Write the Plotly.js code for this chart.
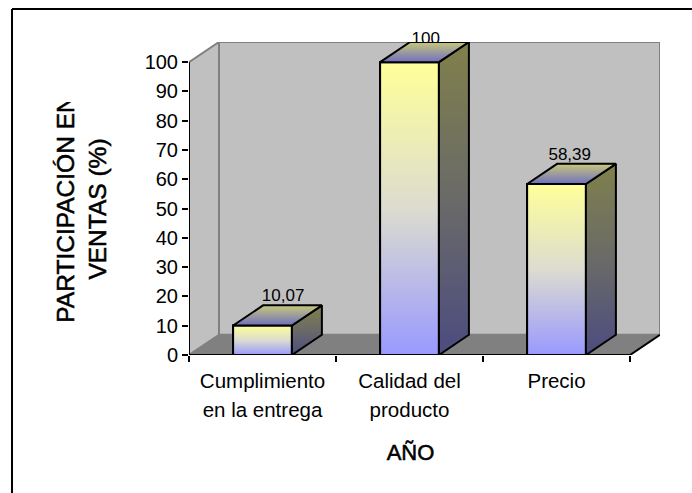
<!DOCTYPE html>
<html>
<head>
<meta charset="utf-8">
<script src="https://cdn.plot.ly/plotly-3.0.1.min.js"></script>
<style>
html,body{margin:0;padding:0;background:#fff}
.ytitle,.xtitle{stroke:#000;stroke-width:.55px}
</style>
</head>
<body>
<div id="chart" style="width:692px;height:493px"></div>
<script>
// Participation per purchase factor, drawn as a pseudo-3D column chart
const categories = ['Cumplimiento<br>en la entrega', 'Calidad del<br>producto', 'Precio'];
const values = [10.07, 100, 58.39];
const valueLabels = ['10,07', '100', '58,39'];
const labelShift = [0.14, 0.11, 0.09];
const labelDrop = [0, 2.2, 0];
const yTicks = [0, 10, 20, 30, 40, 50, 60, 70, 80, 90, 100];
const categoryEdges = [-0.5, 0.5, 1.5, 2.5];

// Oblique projection depth, in axis units
const depthX = 0.204;
const depthY = 6.9;
const barWidth = 0.4;

const faceColors = [[0, '#9999ff'], [0.5, '#dcdcd0'], [1, '#ffff99']];
const sideColors = [[0, '#4c4c80'], [0.5, '#6a6a68'], [1, '#80804c']];
const topColors = [[0, '#6f6fc0'], [1, '#c8c87a']];

const idx = categories.map((_, i) => i);
const traces = [];

traces.push({
  type: 'bar', x: idx, y: values, width: barWidth,
  marker: {color: '#dcdcd0', line: {color: '#000', width: 2}},
  hoverinfo: 'skip', showlegend: false
});

traces.push({
  type: 'scatter', mode: 'text', x: idx.map(i => i + labelShift[i]),
  y: values.map((v, i) => v + depthY - labelDrop[i]),
  text: valueLabels, textposition: 'top center',
  textfont: {family: 'Liberation Sans, Arial', size: 17, color: '#000'},
  cliponaxis: false, hoverinfo: 'skip', showlegend: false
});

function face(xs, ys, colors) {
  traces.push({
    type: 'scatter', mode: 'lines', x: xs, y: ys, fill: 'toself',
    fillgradient: {type: 'vertical', colorscale: colors},
    line: {color: '#000', width: 2}, cliponaxis: false,
    hoverinfo: 'skip', showlegend: false
  });
}

values.forEach((v, i) => {
  const l = i - barWidth / 2, r = i + barWidth / 2;
  face([l, r, r, l, l], [0, 0, v, v, 0], faceColors);
  face([r, r + depthX, r + depthX, r, r], [0, depthY, v + depthY, v, 0], sideColors);
  face([l, r, r + depthX, l + depthX, l], [v, v, v + depthY, v + depthY, v], topColors);
});

const xL = -0.5, xR = 2.5, yMax = 100;
const wallLine = {color: '#808080', width: 2};
const blackLine = {color: '#000', width: 2};
const shapes = [
  // Floor, side wall and back wall
  {type: 'path', layer: 'below', xref: 'x', yref: 'y', fillcolor: '#808080', line: {color: '#808080', width: 1},
   path: `M${xL},0 L${xR},0 L${xR + depthX},${depthY} L${xL + depthX},${depthY} Z`},
  {type: 'path', layer: 'below', xref: 'x', yref: 'y', fillcolor: '#c0c0c0', line: wallLine,
   path: `M${xL},0 L${xL + depthX},${depthY} L${xL + depthX},${yMax + depthY} L${xL},${yMax} Z`},
  {type: 'rect', layer: 'below', xref: 'x', yref: 'y', fillcolor: '#c0c0c0', line: wallLine,
   x0: xL + depthX, x1: xR + depthX, y0: depthY, y1: yMax + depthY},
  // Front axis lines
  {type: 'line', layer: 'above', xref: 'x', yref: 'y', x0: xL, x1: xR, y0: 0, y1: 0, line: blackLine},
  {type: 'line', layer: 'above', xref: 'x', yref: 'y', x0: xL, x1: xL, y0: 0, y1: yMax, line: blackLine},
  {type: 'line', layer: 'above', xref: 'x', yref: 'y', x0: xR, x1: xR + depthX, y0: 0, y1: depthY, line: blackLine},
  // Top and left frame edges, running off the page
  {type: 'line', layer: 'below', xref: 'paper', yref: 'paper', x0: -0.3758, x1: 1.068, y0: 1.1054, y1: 1.1054, line: blackLine},
  {type: 'line', layer: 'below', xref: 'paper', yref: 'paper', x0: -0.3758, x1: -0.3758, y0: 1.1054, y1: -0.441, line: blackLine}
];

const layout = {
  width: 692, height: 493,
  margin: {l: 189, r: 32, t: 42, b: 138, pad: 0},
  paper_bgcolor: '#fff', plot_bgcolor: 'rgba(0,0,0,0)',
  showlegend: false,
  xaxis: {
    type: 'linear', range: [xL, xR + depthX], tickmode: 'array',
    tickvals: idx, ticktext: categories, showgrid: false, zeroline: false, showline: false,
    ticks: '', ticklabelstandoff: 11,
    tickfont: {family: 'Liberation Sans, Arial', size: 20.5, color: '#000'},
    minor: {tickmode: 'array', tickvals: categoryEdges, ticks: 'outside', ticklen: 6, tickwidth: 2, tickcolor: '#000', showgrid: false},
    title: {text: 'AÑO', font: {family: 'Liberation Sans, Arial', size: 22, color: '#000'}, standoff: 27}
  },
  yaxis: {
    range: [0, yMax + depthY], tickmode: 'array', tickvals: yTicks,
    showgrid: false, zeroline: false, showline: false,
    ticks: 'outside', ticklen: 6, tickwidth: 2, tickcolor: '#000',
    tickfont: {family: 'Liberation Sans, Arial', size: 20, color: '#000'},
    title: {text: 'PARTICIPACIÓN EN<br>VENTAS (%)', font: {family: 'Liberation Sans, Arial', size: 24.5, color: '#000'}, standoff: 22}
  },
  shapes: shapes
};

Plotly.newPlot('chart', traces, layout, {displayModeBar: false, staticPlot: true}).then(gd => {
  // Wider line spacing for the two-line category labels; first lines keep their zero offset
  gd.querySelectorAll('.xtick text tspan.line').forEach(t => {
    if (parseFloat(t.getAttribute('dy')) > 0) t.setAttribute('dy', '1.46em');
  });
  // Titles sit over the front of the chart rather than the centre of the plot box
  const nudge = (selector, dx, dy) => {
    const t = gd.querySelector(selector);
    t.setAttribute('transform', `translate(${dx},${dy}) ` + (t.getAttribute('transform') || ''));
  };
  nudge('.xtitle', -14, 0);
  nudge('.ytitle', -9, 10.5);
  // The long axis title is cut off where its box ends
  const ns = 'http://www.w3.org/2000/svg';
  const group = gd.querySelector('.g-ytitle');
  const clip = document.createElementNS(ns, 'clipPath');
  clip.setAttribute('id', 'ytitle-box');
  const box = document.createElementNS(ns, 'rect');
  box.setAttribute('x', 0); box.setAttribute('y', 102);
  box.setAttribute('width', 692); box.setAttribute('height', 391);
  clip.appendChild(box);
  group.appendChild(clip);
  group.setAttribute('clip-path', 'url(#ytitle-box)');
});
</script>
</body>
</html>
